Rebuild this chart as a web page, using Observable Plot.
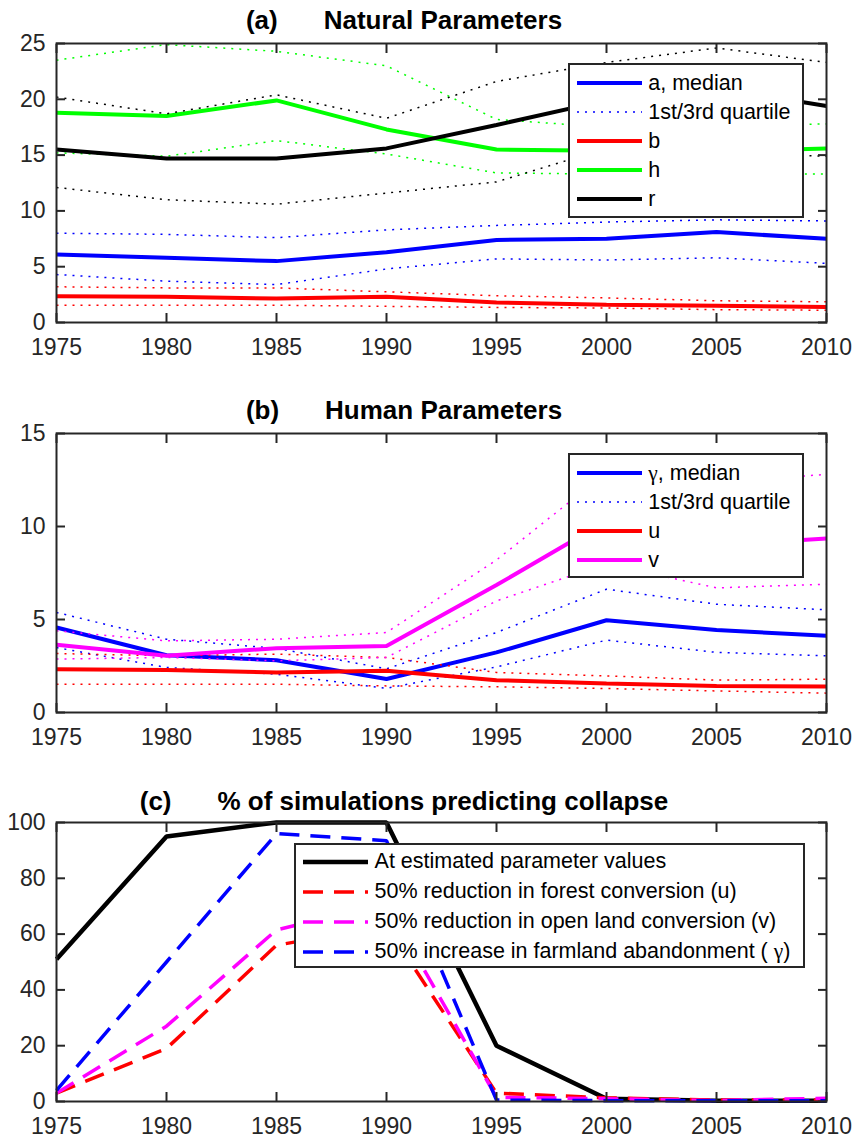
<!DOCTYPE html>
<html><head><meta charset="utf-8">
<script src="https://cdn.jsdelivr.net/npm/d3@7"></script>
<script src="https://cdn.jsdelivr.net/npm/@observablehq/plot@0.6"></script>
<style>
body{margin:0;background:#fff;font-family:"Liberation Sans",Arial,sans-serif;}
#fig{position:relative;width:854px;height:1139px;overflow:hidden;background:#fff;}
.panel{position:absolute;left:0;}
.title{position:absolute;left:0;width:808px;display:flex;justify-content:center;gap:46px;font-weight:bold;font-size:26px;line-height:26px;color:#000;white-space:nowrap;}
.legend{position:absolute;background:#fff;border:2px solid #262626;box-sizing:border-box;font-size:21.5px;color:#000;}
.row{display:flex;align-items:center;}
.row svg{flex:none;display:block;}
.gm{font-family:"Liberation Serif","DejaVu Serif",serif;}
</style></head><body><div id="fig"></div>
<script>
// ---------- data ----------
const years = [1975, 1980, 1985, 1990, 1995, 2000, 2005, 2010];
const yTicksA = [0, 5, 10, 15, 20, 25];
const yTicksB = [0, 5, 10, 15];
const yTicksC = [0, 20, 40, 60, 80, 100];

// (a) Natural parameters
const aMedian = [6.1, 5.8, 5.5, 6.3, 7.4, 7.5, 8.1, 7.5];
const aQ3 = [8.0, 7.9, 7.6, 8.3, 8.7, 9.0, 9.2, 9.1];
const aQ1 = [4.3, 3.7, 3.4, 4.8, 5.7, 5.6, 5.8, 5.3];
const bMedian = [2.35, 2.3, 2.15, 2.3, 1.8, 1.6, 1.5, 1.4];
const bQ3 = [3.2, 3.1, 3.1, 2.75, 2.4, 2.2, 1.95, 1.85];
const bQ1 = [1.55, 1.55, 1.55, 1.45, 1.35, 1.3, 1.15, 1.1];
const hMedian = [18.8, 18.5, 19.9, 17.3, 15.5, 15.4, 15.3, 15.6];
const hQ3 = [23.5, 24.9, 24.3, 23.0, 18.2, 17.5, 17.5, 17.8];
const hQ1 = [15.2, 14.9, 16.3, 15.1, 13.4, 13.3, 13.3, 13.3];
const rMedian = [15.5, 14.7, 14.7, 15.6, 17.7, 19.9, 21.0, 19.4];
const rQ3 = [20.2, 18.7, 20.4, 18.3, 21.6, 23.3, 24.6, 23.3];
const rQ1 = [12.1, 11.0, 10.6, 11.6, 12.6, 15.6, 15.2, 14.9];

// (b) Human parameters
const gMedian = [4.57, 3.08, 2.81, 1.8, 3.23, 4.96, 4.43, 4.12];
const gQ3 = [5.38, 3.94, 3.45, 2.35, 4.3, 6.63, 5.82, 5.52];
const gQ1 = [3.49, 2.42, 2.06, 1.3, 2.45, 3.89, 3.23, 3.05];
const uMedian = [2.33, 2.28, 2.15, 2.24, 1.74, 1.56, 1.43, 1.40];
const uQ3 = [3.17, 3.05, 3.14, 2.96, 2.15, 1.97, 1.74, 1.79];
const uQ1 = [1.52, 1.52, 1.52, 1.43, 1.38, 1.29, 1.16, 1.04];
const vMedian = [3.64, 3.05, 3.46, 3.58, 6.85, 10.3, 9.0, 9.35];
const vQ3 = [4.39, 3.85, 3.94, 4.3, 8.2, 12.9, 12.4, 12.8];
const vQ1 = [2.87, 2.96, 2.78, 2.96, 6.0, 8.0, 6.7, 6.9];

// (c) % of simulations predicting collapse
const collapseBase = [51, 95, 100, 100, 20, 1, 0.3, 0.3];
const collapseU = [3, 19, 56, 63, 3, 1.3, 0.5, 0.5];
const collapseV = [3, 27, 61.5, 71, 1.5, 1, 0.3, 1.2];
const collapseG = [4, 50, 96, 93.5, 0.5, 0.3, 0.3, 0.3];

// ---------- styles ----------
const BLUE = "#0000ff", RED = "#ff0000", GREEN = "#00ff00", MAG = "#ff00ff", BLK = "#000000";
const AX = "#262626";
const MED = {strokeWidth: 4};
const DOT = {strokeWidth: 1.5, strokeDasharray: "2,6"};
const DASH = {strokeWidth: 3.5, strokeDasharray: "20,11"};

const fig = document.getElementById("fig");

function lineMark(values, color, style) {
  const data = years.map((yr, i) => ({year: yr, value: values[i]}));
  return Plot.line(data, {x: "year", y: "value", stroke: color, strokeLinecap: "butt", strokeLinejoin: "miter", ...style});
}

function panel(top, yDomain, yTicks, lines) {
  const chart = Plot.plot({
    width: 854, height: 367,
    marginLeft: 56, marginRight: 28, marginTop: 43, marginBottom: 45,
    x: {domain: [1975, 2010], label: null},
    y: {domain: yDomain, label: null},
    style: {fontFamily: '"Liberation Sans", Arial, sans-serif', fontSize: "23px", color: AX, background: "transparent", overflow: "visible"},
    marks: [
      ...lines,
      Plot.frame({stroke: AX, strokeWidth: 2}),
      Plot.axisX(years, {anchor: "bottom", label: null, tickSize: -9, tickPadding: 25.5, strokeWidth: 2, tickFormat: d => String(d), fontSize: 23, fill: AX}),
      Plot.axisX(years, {anchor: "top", label: null, tickSize: -9, tickPadding: 0, strokeWidth: 2, tickFormat: () => ""}),
      Plot.axisY(yTicks, {anchor: "left", label: null, tickSize: -9, tickPadding: 20, strokeWidth: 2, tickFormat: d => String(d), fontSize: 23, fill: AX}),
      Plot.axisY(yTicks, {anchor: "right", label: null, tickSize: -9, tickPadding: 0, strokeWidth: 2, tickFormat: () => ""})
    ]
  });
  const div = document.createElement("div");
  div.className = "panel";
  div.style.top = top + "px";
  div.appendChild(chart);
  fig.appendChild(div);
}

function title(top, tag, text) {
  const d = document.createElement("div");
  d.className = "title";
  d.style.top = top + "px";
  d.innerHTML = `<span>${tag}</span><span>${text}</span>`;
  fig.appendChild(d);
}

function legend({left, top, width, height, padTop, padLeft, rowH, items}) {
  const box = document.createElement("div");
  box.className = "legend";
  Object.assign(box.style, {left: left + "px", top: top + "px", width: width + "px", height: height + "px", paddingTop: padTop + "px", paddingLeft: padLeft + "px"});
  for (const it of items) {
    const row = document.createElement("div");
    row.className = "row";
    row.style.height = rowH + "px";
    const dash = it.style.strokeDasharray ? `stroke-dasharray="${it.style.strokeDasharray}"` : "";
    row.innerHTML = `<svg width="65" height="8"><line x1="0" x2="65" y1="4" y2="4" stroke="${it.color}" stroke-width="${it.style.strokeWidth}" ${dash}/></svg><span style="margin-left:6.6px">${it.label}</span>`;
    box.appendChild(row);
  }
  fig.appendChild(box);
}

// ---------- panel (a) ----------
panel(0, [0, 25], yTicksA, [
  lineMark(aMedian, BLUE, MED), lineMark(aQ3, BLUE, DOT), lineMark(aQ1, BLUE, DOT),
  lineMark(bMedian, RED, MED), lineMark(bQ3, RED, DOT), lineMark(bQ1, RED, DOT),
  lineMark(hMedian, GREEN, MED), lineMark(hQ3, GREEN, DOT), lineMark(hQ1, GREEN, DOT),
  lineMark(rMedian, BLK, MED), lineMark(rQ3, BLK, DOT), lineMark(rQ1, BLK, DOT)
]);
title(7.3, "(a)", "Natural Parameters");
legend({left: 567.7, top: 63.3, width: 236.6, height: 155, padTop: 3.5, padLeft: 7, rowH: 29, items: [
  {label: "a, median", color: BLUE, style: MED},
  {label: "1st/3rd quartile", color: BLUE, style: DOT},
  {label: "b", color: RED, style: MED},
  {label: "h", color: GREEN, style: MED},
  {label: "r", color: BLK, style: MED}
]});

// ---------- panel (b) ----------
panel(390, [0, 15], yTicksB, [
  lineMark(gMedian, BLUE, MED), lineMark(gQ3, BLUE, DOT), lineMark(gQ1, BLUE, DOT),
  lineMark(uMedian, RED, MED), lineMark(uQ3, RED, DOT), lineMark(uQ1, RED, DOT),
  lineMark(vMedian, MAG, MED), lineMark(vQ3, MAG, DOT), lineMark(vQ1, MAG, DOT)
]);
title(397.3, "(b)", "Human Parameters");
legend({left: 567.7, top: 453.3, width: 236.6, height: 124.4, padTop: 3.5, padLeft: 7, rowH: 29, items: [
  {label: '<span class="gm">γ</span>, median', color: BLUE, style: MED},
  {label: "1st/3rd quartile", color: BLUE, style: DOT},
  {label: "u", color: RED, style: MED},
  {label: "v", color: MAG, style: MED}
]});

// ---------- panel (c) ----------
panel(779, [0, 100], yTicksC, [
  lineMark(collapseBase, BLK, {strokeWidth: 4.5}),
  lineMark(collapseU, RED, DASH),
  lineMark(collapseV, MAG, DASH),
  lineMark(collapseG, BLUE, DASH)
]);
title(788, "(c)", "% of simulations predicting collapse");
legend({left: 294.3, top: 843.3, width: 510.7, height: 125, padTop: 1.4, padLeft: 6.7, rowH: 30, items: [
  {label: "At estimated parameter values", color: BLK, style: {strokeWidth: 4.5}},
  {label: "50% reduction in forest conversion (u)", color: RED, style: DASH},
  {label: "50% reduction in open land conversion (v)", color: MAG, style: DASH},
  {label: '50% increase in farmland abandonment ( <span class="gm">γ</span>)', color: BLUE, style: DASH}
]});
</script>
</body></html>
